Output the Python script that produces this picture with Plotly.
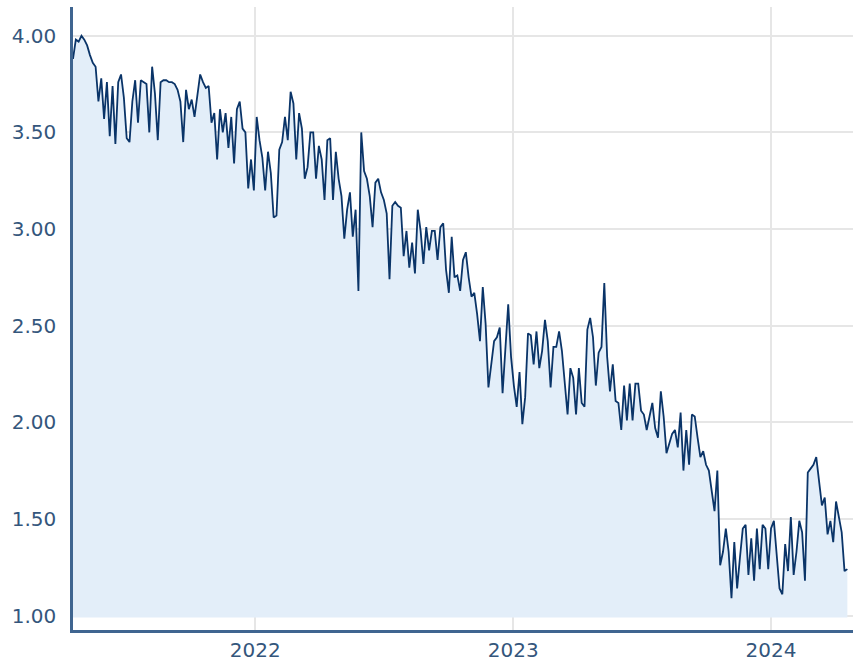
import pandas as pd
import plotly.graph_objects as go

# Values, one point every 4 days starting 2021-04-18
start_date = "2021-04-18"
step_days = 4
values = [
    3.88, 3.98, 3.97, 4.00, 3.98, 3.95, 3.90, 3.86, 3.84, 3.66,
    3.78, 3.57, 3.76, 3.48, 3.74, 3.44, 3.76, 3.80, 3.68, 3.47,
    3.45, 3.66, 3.77, 3.55, 3.77, 3.76, 3.75, 3.50, 3.84, 3.70,
    3.46, 3.76, 3.77, 3.77, 3.76, 3.76, 3.75, 3.72, 3.66, 3.45,
    3.72, 3.62, 3.67, 3.58, 3.70, 3.80, 3.76, 3.73, 3.74, 3.55,
    3.60, 3.36, 3.62, 3.50, 3.60, 3.42, 3.58, 3.34, 3.62, 3.66,
    3.52, 3.50, 3.21, 3.36, 3.20, 3.58, 3.46, 3.37, 3.20, 3.40,
    3.29, 3.06, 3.07, 3.41, 3.45, 3.58, 3.46, 3.71, 3.65, 3.36,
    3.60, 3.52, 3.26, 3.32, 3.50, 3.50, 3.26, 3.43, 3.36, 3.15,
    3.46, 3.47, 3.15, 3.40, 3.26, 3.17, 2.95, 3.10, 3.19, 2.96,
    3.10, 2.68, 3.50, 3.30, 3.26, 3.17, 3.01, 3.24, 3.26, 3.19,
    3.15, 3.08, 2.74, 3.12, 3.14, 3.12, 3.11, 2.86, 2.99, 2.80,
    2.93, 2.77, 3.10, 2.99, 2.82, 3.01, 2.89, 2.99, 2.99, 2.84,
    3.01, 3.03, 2.79, 2.67, 2.96, 2.75, 2.76, 2.68, 2.84, 2.88,
    2.75, 2.65, 2.67, 2.56, 2.42, 2.70, 2.51, 2.18, 2.30, 2.42,
    2.44, 2.49, 2.15, 2.37, 2.61, 2.34, 2.19, 2.08, 2.26, 1.99,
    2.13, 2.46, 2.45, 2.30, 2.47, 2.28, 2.37, 2.53, 2.42, 2.18,
    2.39, 2.39, 2.47, 2.37, 2.22, 2.04, 2.28, 2.23, 2.04, 2.28,
    2.10, 2.08, 2.48, 2.54, 2.44, 2.19, 2.36, 2.39, 2.72, 2.34,
    2.16, 2.30, 2.11, 2.10, 1.96, 2.19, 2.01, 2.20, 2.01, 2.20,
    2.20, 2.06, 2.04, 1.96, 2.03, 2.10, 1.97, 1.92, 2.16, 2.03,
    1.84, 1.89, 1.94, 1.96, 1.87, 2.05, 1.75, 1.96, 1.78, 2.04,
    2.03, 1.92, 1.82, 1.85, 1.78, 1.75, 1.64, 1.54, 1.75, 1.26,
    1.33, 1.45, 1.33, 1.09, 1.38, 1.14, 1.30, 1.45, 1.47, 1.21,
    1.40, 1.18, 1.45, 1.24, 1.47, 1.45, 1.24, 1.45, 1.49, 1.32,
    1.14, 1.11, 1.37, 1.23, 1.51, 1.21, 1.33, 1.49, 1.43, 1.18,
    1.74, 1.76, 1.78, 1.82, 1.68, 1.57, 1.61, 1.42, 1.49, 1.38,
    1.59, 1.51, 1.43, 1.23, 1.24,
]
dates = pd.date_range(start_date, periods=len(values), freq=f"{step_days}D")

y_ticks = [1.0, 1.5, 2.0, 2.5, 3.0, 3.5, 4.0]
x_tick_vals = ["2022-01-01", "2023-01-01", "2024-01-01"]
x_tick_text = ["2022", "2023", "2024"]

fill_base = 0.99
line_color = "#0a3468"
fill_color = "#e3eef9"
axis_color = "#3f6590"
label_color = "#34567c"
grid_color = "#e6e6e6"

fig = go.Figure()
fig.add_trace(go.Scatter(
    x=dates, y=[fill_base] * len(values), mode="lines",
    line=dict(width=0, color=fill_color), hoverinfo="skip", showlegend=False,
))
fig.add_trace(go.Scatter(
    x=dates, y=values, mode="lines", fill="tonexty", fillcolor=fill_color,
    line=dict(color=line_color, width=1.8), showlegend=False,
))

fig.update_layout(
    width=855, height=661,
    margin=dict(l=73, r=2, t=7, b=31),
    paper_bgcolor="white", plot_bgcolor="white",
    font=dict(family="DejaVu Sans", size=20, color=label_color),
    showlegend=False,
)
fig.update_xaxes(
    range=["2021-04-18", "2024-04-26"],
    tickvals=x_tick_vals, ticktext=x_tick_text,
    showgrid=True, gridcolor=grid_color, gridwidth=1.5,
    showline=True, linecolor=axis_color, linewidth=2.5,
    ticks="", ticklabelstandoff=0, zeroline=False, automargin=False,
)
fig.update_yaxes(
    range=[0.925, 4.149],
    tickvals=y_ticks, tickformat=".2f",
    showgrid=True, gridcolor=grid_color, gridwidth=1.5,
    showline=True, linecolor=axis_color, linewidth=2.5,
    ticks="", ticklabelstandoff=10, zeroline=False, automargin=False,
)

fig.write_html(
    "out.html",
    config={"displayModeBar": False},
    post_script="document.body.style.margin='0';document.body.style.overflow='hidden';",
)
